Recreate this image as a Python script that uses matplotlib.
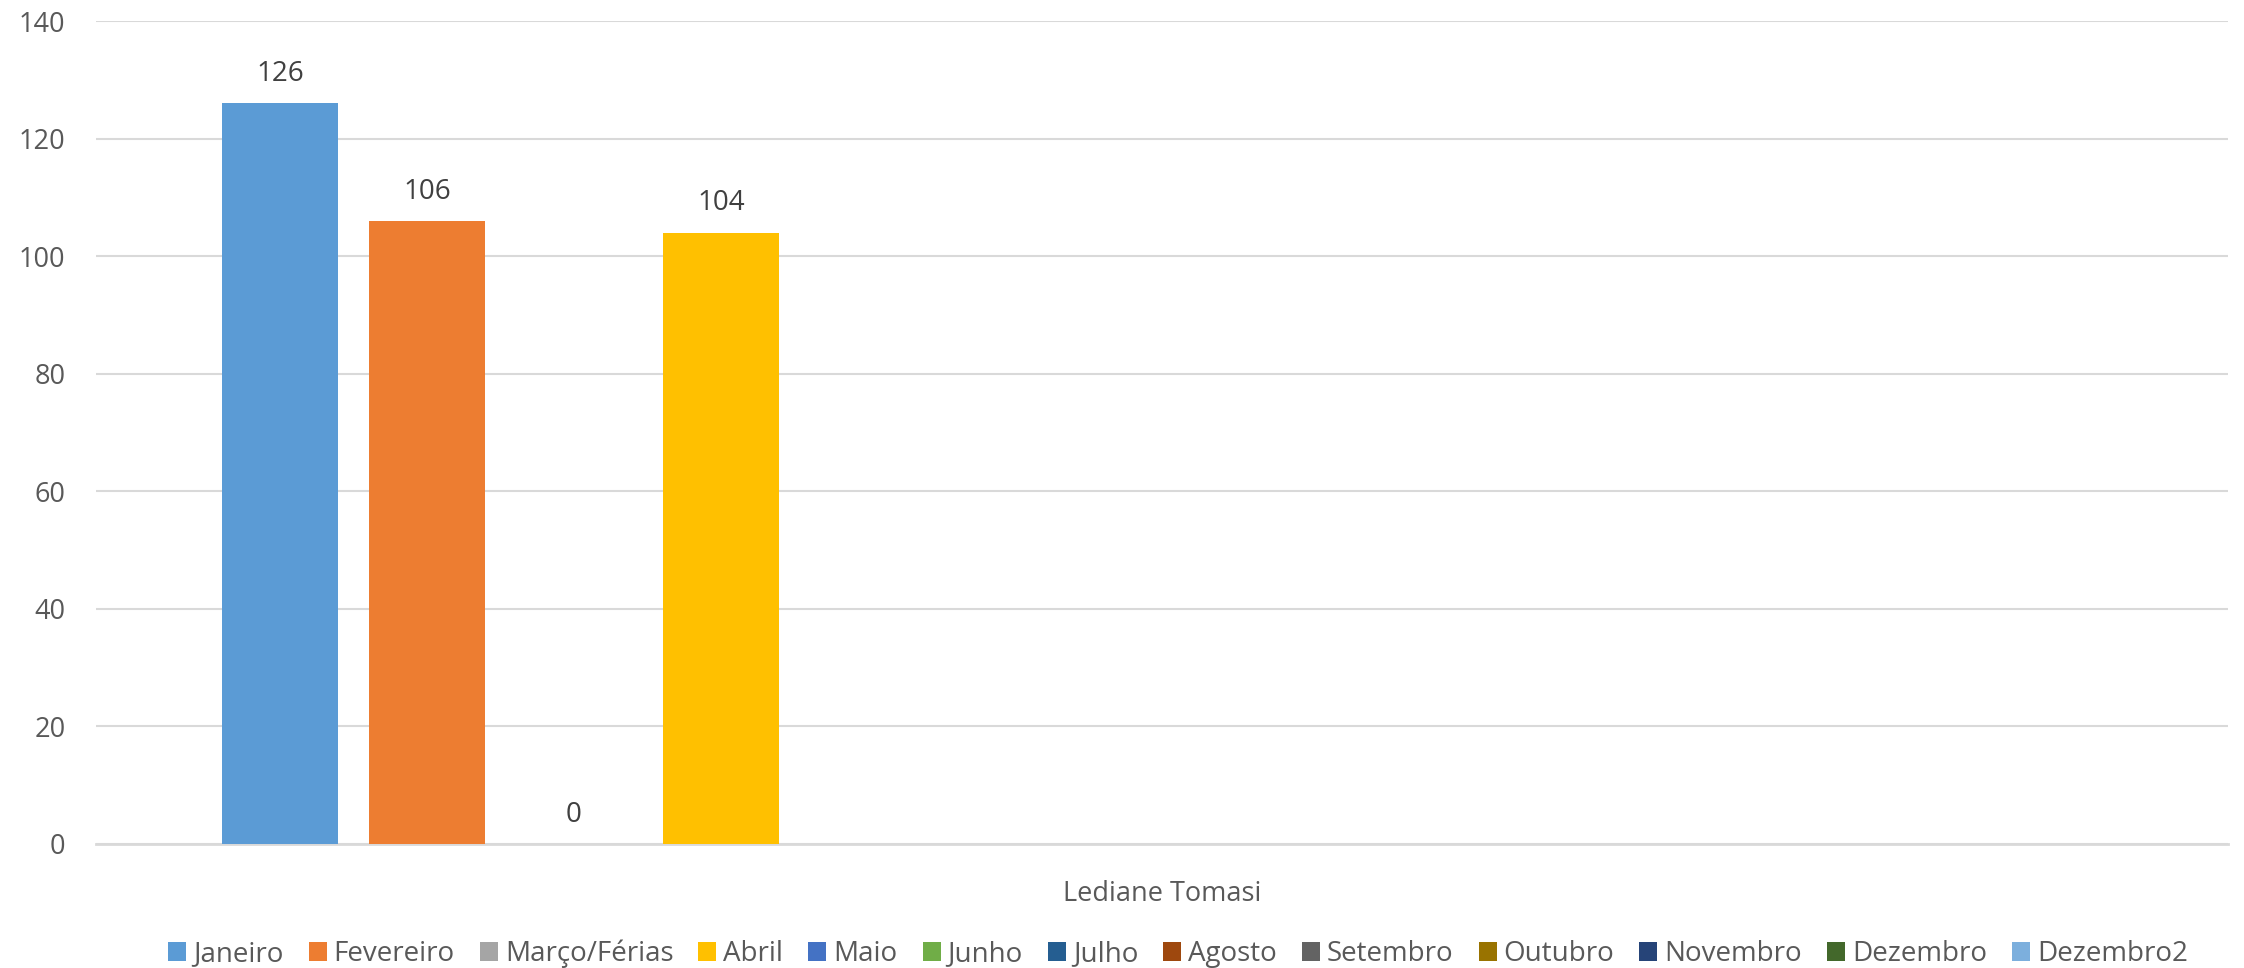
import numpy as np
import matplotlib
matplotlib.use("Agg")
import matplotlib.pyplot as plt
from matplotlib.patches import Patch

plt.rcParams['font.family'] = ['Open Sans', 'DejaVu Sans']

category = "Lediane Tomasi"
series = ["Janeiro", "Fevereiro", "Março/Férias", "Abril", "Maio", "Junho", "Julho",
          "Agosto", "Setembro", "Outubro", "Novembro", "Dezembro", "Dezembro2"]
values = [126, 106, 0, 104, np.nan, np.nan, np.nan, np.nan, np.nan, np.nan, np.nan, np.nan, np.nan]
colors = ["#5B9BD5", "#ED7D31", "#A5A5A5", "#FFC000", "#4472C4", "#70AD47", "#255E91",
          "#9E480E", "#636363", "#997300", "#264478", "#43682B", "#7CAFDD"]
yticks = [0, 20, 40, 60, 80, 100, 120, 140]

fig = plt.figure(figsize=(22.44, 9.68), dpi=100)
ax = fig.add_axes([96/2244, 1-844/968, (2228-96)/2244, (844-21)/968])

n = len(series)
slot = 1.0
bw = 116/147
half = 1066/147
for i, (s, v, c) in enumerate(zip(series, values, colors)):
    x = (i - (n-1)/2) * slot
    if not np.isnan(v):
        ax.bar(x, v, width=bw, color=c, zorder=3)
        ax.text(x, v + 2.6, f"{v:g}", ha='center', va='bottom', fontsize=20, color='#404040')

ax.set_xlim(-half, half)
ax.set_ylim(0, 140)
ax.set_yticks(yticks)
ax.set_yticklabels([str(t) for t in yticks], fontsize=19.5, color='#595959')
ax.set_xticks([0])
ax.set_xticklabels([category], fontsize=19.5, color='#595959')
ax.tick_params(axis='both', length=0)
ax.tick_params(axis='y', pad=22)
ax.tick_params(axis='x', pad=26)
ax.grid(axis='y', color='#d9d9d9', linewidth=1.5, zorder=0)
for sp in ['top', 'right', 'left']:
    ax.spines[sp].set_visible(False)
ax.spines['bottom'].set_color('#d9d9d9')
ax.spines['bottom'].set_linewidth(2)

handles = [Patch(facecolor=c, edgecolor='none') for c in colors]
leg = fig.legend(handles, series, loc='center', bbox_to_anchor=(1178/2244, 1-954/968), ncol=n,
                 frameon=False, fontsize=20, handlelength=0.65, handleheight=0.65,
                 handletextpad=0.25, columnspacing=0.9, borderaxespad=0)
for t in leg.get_texts():
    t.set_color('#595959')

fig.savefig("out.png", dpi=100)
